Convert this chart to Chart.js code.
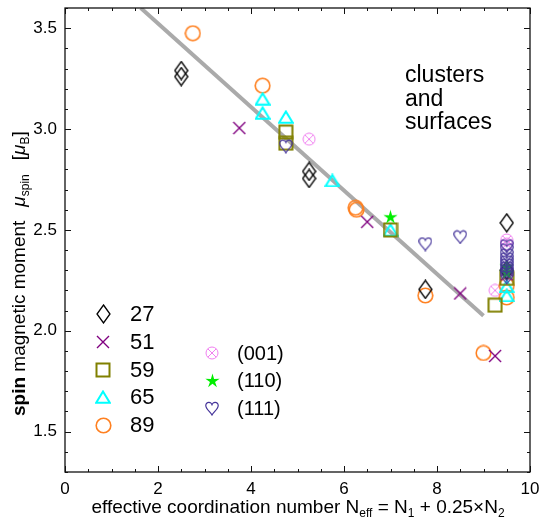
<!DOCTYPE html>
<html lang="en">

<head>
    <meta charset="UTF-8" />
    <title>Spin magnetic moment</title>
    <script src="https://cdn.jsdelivr.net/npm/chart.js"></script>
    <style>
        html, body { margin: 0; padding: 0; background: #fff; }
        #chart { display: block; }
    </style>
</head>

<body>
    <canvas id="chart" width="540" height="518"></canvas>

    <script>
        // Eixos
        const xTicks = [0, 2, 4, 6, 8, 10];
        const yTicks = [1.5, 2.0, 2.5, 3.0, 3.5];

        // Clusters (numero de atomos)
        const n27X = [2.5, 2.5, 5.25, 5.25, 7.75, 9.5, 9.5];
        const n27Y = [3.29, 3.26, 2.79, 2.755, 2.205, 2.535, 2.30];
        const n51X = [3.75, 6.5, 8.5, 9.25, 9.5, 9.5];
        const n51Y = [3.005, 2.54, 2.185, 1.875, 2.30, 2.28];
        const n59X = [4.75, 4.75, 7.0, 9.25, 9.5];
        const n59Y = [2.985, 2.93, 2.50, 2.127, 2.26];
        const n65X = [4.25, 4.25, 4.75, 5.75, 7.0, 9.5, 9.5];
        const n65Y = [3.15, 3.08, 3.06, 2.745, 2.50, 2.22, 2.175];
        const n89X = [2.75, 4.25, 6.25, 6.27, 7.75, 9.0, 9.5, 9.5];
        const n89Y = [3.475, 3.215, 2.61, 2.60, 2.175, 1.89, 2.225, 2.165];

        // Superficies
        const s001X = [5.25, 9.25, 9.5, 9.5];
        const s001Y = [2.95, 2.20, 2.45, 2.43];
        const s110X = [7.0, 9.5, 9.5];
        const s110Y = [2.565, 2.32, 2.29];
        const s111X = [4.75, 7.75, 8.5, 9.5, 9.5, 9.5, 9.5, 9.5, 9.5, 9.5, 9.5, 9.5, 9.5];
        const s111Y = [2.915, 2.43, 2.465, 2.42, 2.40, 2.375, 2.355, 2.34, 2.325, 2.31, 2.295, 2.28, 2.265];

        // Reta de tendencia
        const fitX = [1.63, 9.0];
        const fitY = [3.60, 2.075];

        const pts = (xs, ys) => xs.map((v, i) => ({ x: v, y: ys[i] }));

        // Marcadores desenhados em canvas
        function marker(w, h, draw) {
            const c = document.createElement("canvas");
            c.width = w;
            c.height = h;
            draw(c.getContext("2d"), w, h);
            return c;
        }

        const mDiamond = marker(15, 20, (g, w, h) => {
            g.strokeStyle = "#000";
            g.lineWidth = 1.3;
            g.beginPath();
            g.moveTo(w / 2, 1); g.lineTo(w - 1, h / 2); g.lineTo(w / 2, h - 1); g.lineTo(1, h / 2);
            g.closePath();
            g.stroke();
        });
        const mCross = marker(14, 14, (g, w, h) => {
            g.strokeStyle = "#800080";
            g.lineWidth = 1.4;
            g.beginPath();
            g.moveTo(1, 1); g.lineTo(w - 1, h - 1);
            g.moveTo(w - 1, 1); g.lineTo(1, h - 1);
            g.stroke();
        });
        const mSquare = marker(16, 16, (g, w, h) => {
            g.strokeStyle = "#808000";
            g.lineWidth = 2;
            g.strokeRect(1.5, 1.5, w - 3, h - 3);
        });
        const mTriangle = marker(16, 14, (g, w, h) => {
            g.strokeStyle = "#00ffff";
            g.lineWidth = 2;
            g.beginPath();
            g.moveTo(w / 2, 1.5); g.lineTo(w - 1.2, h - 1.2); g.lineTo(1.2, h - 1.2);
            g.closePath();
            g.stroke();
        });
        const mCircle = marker(17, 17, (g, w, h) => {
            g.strokeStyle = "#ff8020";
            g.lineWidth = 1.6;
            g.beginPath();
            g.arc(w / 2, h / 2, w / 2 - 1.2, 0, Math.PI * 2);
            g.stroke();
        });
        const mOtimes = marker(14, 14, (g, w, h) => {
            const r = w / 2 - 1;
            const d = r * 0.7;
            g.strokeStyle = "#f080f0";
            g.lineWidth = 1;
            g.beginPath();
            g.arc(w / 2, h / 2, r, 0, Math.PI * 2);
            g.moveTo(w / 2 - d, h / 2 - d); g.lineTo(w / 2 + d, h / 2 + d);
            g.moveTo(w / 2 + d, h / 2 - d); g.lineTo(w / 2 - d, h / 2 + d);
            g.stroke();
        });
        const mStar = marker(15, 15, (g, w, h) => {
            const R = w / 2, r = R * 0.36;
            g.fillStyle = "#00ee00";
            g.beginPath();
            for (let k = 0; k < 10; k++) {
                const a = -Math.PI / 2 + k * Math.PI / 5;
                const rr = k % 2 ? r : R;
                g.lineTo(w / 2 + rr * Math.cos(a), h / 2 + 0.6 + rr * Math.sin(a));
            }
            g.closePath();
            g.fill();
        });
        const mHeart = marker(14, 15, (g, w, h) => {
            g.strokeStyle = "#45349a";
            g.lineWidth = 1.2;
            g.beginPath();
            g.moveTo(w / 2, h * 0.3);
            g.bezierCurveTo(w / 2, h * 0.02, 0.6, h * 0.02, 0.8, h * 0.32);
            g.bezierCurveTo(1, h * 0.55, w * 0.38, h * 0.72, w / 2, h - 1);
            g.bezierCurveTo(w * 0.62, h * 0.72, w - 1, h * 0.55, w - 0.8, h * 0.32);
            g.bezierCurveTo(w - 0.6, h * 0.02, w / 2, h * 0.02, w / 2, h * 0.3);
            g.stroke();
        });

        const serie = (xs, ys, style) => ({
            data: pts(xs, ys),
            pointStyle: style,
            pointRadius: 6,
            pointHoverRadius: 6,
            showLine: false
        });

        const legendaEsq = [
            [mDiamond, "27"], [mCross, "51"], [mSquare, "59"], [mTriangle, "65"], [mCircle, "89"]
        ];
        const legendaDir = [
            [mOtimes, "(001)"], [mStar, "(110)"], [mHeart, "(111)"]
        ];

        const FONTE = "'Liberation Sans', Arial, sans-serif";

        // Moldura, marcas internas, legenda e textos
        const extras = {
            id: "extras",
            afterDraw(chart) {
                const { ctx, chartArea: a, scales } = chart;
                const sx = scales.x, sy = scales.y;
                ctx.save();
                ctx.strokeStyle = "#111";
                ctx.lineWidth = 1.3;
                ctx.strokeRect(a.left, a.top, a.right - a.left, a.bottom - a.top);

                ctx.lineWidth = 1;
                ctx.beginPath();
                for (let i = 0; i <= 20; i++) {
                    const px = Math.round(sx.getPixelForValue(i * 0.5)) + 0.5;
                    const len = i % 4 === 0 ? 6 : 3;
                    ctx.moveTo(px, a.bottom); ctx.lineTo(px, a.bottom - len);
                    ctx.moveTo(px, a.top); ctx.lineTo(px, a.top + len);
                }
                for (let i = 13; i <= 36; i++) {
                    const py = Math.round(sy.getPixelForValue(i / 10)) + 0.5;
                    const len = i % 5 === 0 ? 6 : 3;
                    ctx.moveTo(a.left, py); ctx.lineTo(a.left + len, py);
                    ctx.moveTo(a.right, py); ctx.lineTo(a.right - len, py);
                }
                ctx.stroke();

                ctx.fillStyle = "#000";
                ctx.textBaseline = "alphabetic";
                ctx.textAlign = "left";
                ctx.font = "23px " + FONTE;
                ctx.fillText("clusters", 405, 82);
                ctx.fillText("and", 405, 106);
                ctx.fillText("surfaces", 405, 129);

                // legenda
                ctx.textBaseline = "middle";
                legendaEsq.forEach(([m, txt], i) => {
                    const cy = 314 + i * 27.8;
                    ctx.drawImage(m, Math.round(103 - m.width / 2), Math.round(cy - m.height / 2));
                    ctx.font = "22px " + FONTE;
                    ctx.fillText(txt, 130, cy + 1);
                });
                legendaDir.forEach(([m, txt], i) => {
                    const cy = 353 + i * 27.5;
                    ctx.drawImage(m, Math.round(212 - m.width / 2), Math.round(cy - m.height / 2));
                    ctx.font = "20px " + FONTE;
                    ctx.fillText(txt, 237, cy + 1);
                });

                // titulo do eixo x
                ctx.textBaseline = "alphabetic";
                const partesX = [
                    ["effective coordination number N", 19, 0],
                    ["eff", 12, 4],
                    [" = N", 19, 0],
                    ["1", 12, 4],
                    [" + 0.25\u00d7N", 19, 0],
                    ["2", 12, 4]
                ];
                let total = 0;
                partesX.forEach(([t, s]) => { ctx.font = s + "px " + FONTE; total += ctx.measureText(t).width; });
                let cx = 298 - total / 2;
                partesX.forEach(([t, s, dy]) => {
                    ctx.font = s + "px " + FONTE;
                    ctx.fillText(t, cx, 513 + dy);
                    cx += ctx.measureText(t).width;
                });

                // titulo do eixo y (rotacionado)
                ctx.translate(25, 416);
                ctx.rotate(-Math.PI / 2);
                const partesY = [
                    ["spin", "bold 19px", 0, 0],
                    [" magnetic moment", "19px", 0, 0],
                    ["\u03bc", "italic 19px", 0, 14],
                    ["spin", "12px", 4, 0],
                    ["[", "19px", 0, 14],
                    ["\u03bc", "italic 19px", 0, 0],
                    ["B", "12px", 4, 0],
                    ["]", "19px", 0, 0]
                ];
                let ux = 0;
                partesY.forEach(([t, f, dy, gap]) => {
                    ux += gap;
                    ctx.font = f + " " + FONTE;
                    ctx.fillText(t, ux, dy);
                    ux += ctx.measureText(t).width;
                });
                ctx.restore();
            }
        };

        new Chart(document.getElementById("chart"), {
            type: "scatter",
            data: {
                datasets: [
                    serie(s111X, s111Y, mHeart),
                    serie(s110X, s110Y, mStar),
                    serie(n27X, n27Y, mDiamond),
                    serie(n51X, n51Y, mCross),
                    serie(n59X, n59Y, mSquare),
                    serie(n65X, n65Y, mTriangle),
                    serie(n89X, n89Y, mCircle),
                    serie(s001X, s001Y, mOtimes),
                    {
                        data: pts(fitX, fitY),
                        showLine: true,
                        borderColor: "#aaaaaa",
                        borderWidth: 4,
                        pointRadius: 0,
                        pointHoverRadius: 0
                    }
                ]
            },
            options: {
                responsive: false,
                animation: false,
                devicePixelRatio: 1,
                layout: { padding: { top: 8, right: 10, left: 0, bottom: 0 } },
                plugins: { legend: { display: false }, tooltip: { enabled: false } },
                scales: {
                    x: {
                        min: 0,
                        max: 10,
                        grid: { display: false, drawTicks: false },
                        border: { display: false },
                        afterBuildTicks: (s) => { s.ticks = xTicks.map(v => ({ value: v })); },
                        afterFit: (s) => { s.height = 46; s.paddingLeft = 0; s.paddingRight = 0; },
                        ticks: {
                            color: "#000",
                            padding: 7,
                            maxRotation: 0,
                            font: { family: FONTE, size: 17 }
                        }
                    },
                    y: {
                        min: 1.3,
                        max: 3.6,
                        grid: { display: false, drawTicks: false },
                        border: { display: false },
                        afterBuildTicks: (s) => { s.ticks = yTicks.map(v => ({ value: v })); },
                        afterFit: (s) => { s.width = 65; s.paddingTop = 0; s.paddingBottom = 0; },
                        ticks: {
                            color: "#000",
                            padding: 8,
                            font: { family: FONTE, size: 17 },
                            callback: (v) => Number(v).toFixed(1)
                        }
                    }
                }
            },
            plugins: [extras]
        });
    </script>
</body>

</html>
